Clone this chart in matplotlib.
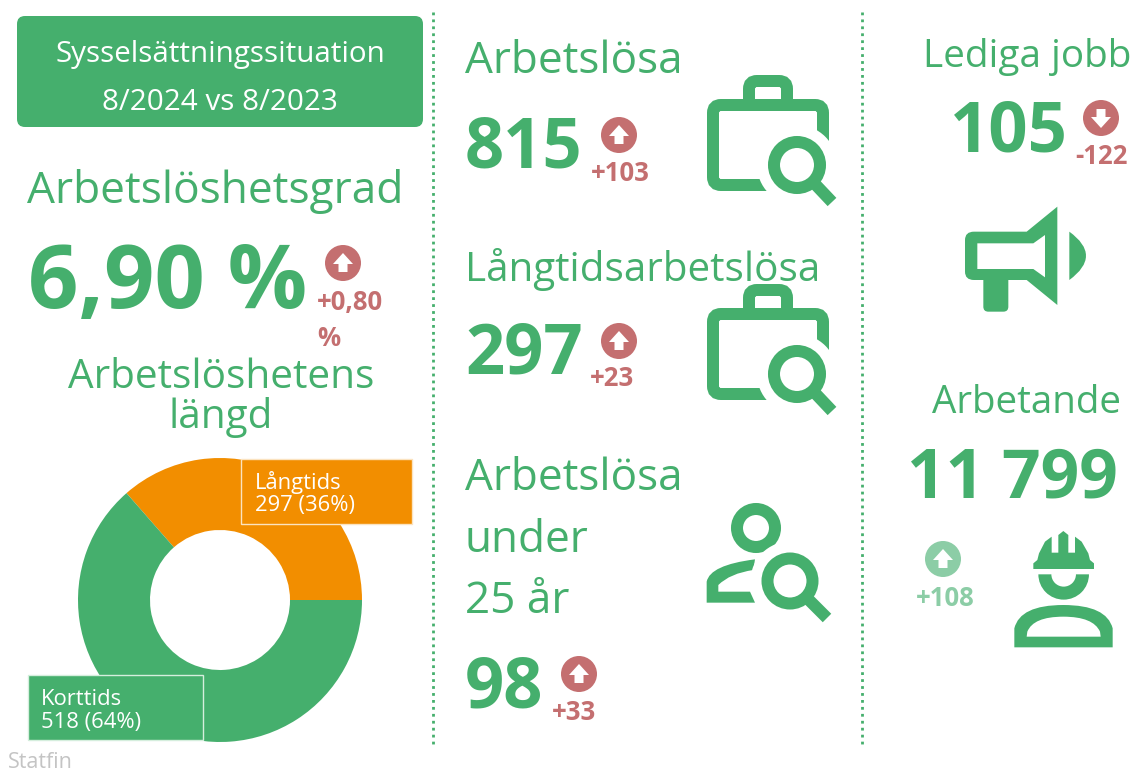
import matplotlib
matplotlib.use("Agg")
import matplotlib.pyplot as plt
from matplotlib.patches import Circle, FancyBboxPatch, PathPatch, Polygon, Rectangle, Wedge
from matplotlib.path import Path

plt.rcParams["font.family"] = ["Open Sans", "DejaVu Sans"]

GREEN = "#45AF6D"
ORANGE = "#F28E00"
RED = "#C46F70"
LIGHT = "#8CCDA6"
WIDTH, HEIGHT = 1134, 773

# data
duration_labels = ["Långtids", "Korttids"]
duration_values = [297, 518]
duration_shares = ["36%", "64%"]
duration_colors = [ORANGE, GREEN]
unemployment_rate = "6,90 %"
rate_change = "+0,80"
unemployed = "815"
unemployed_change = "+103"
long_term = "297"
long_term_change = "+23"
youth = "98"
youth_change = "+33"
vacancies = "105"
vacancies_change = "-122"
employed = "11 799"
employed_change = "+108"

fig = plt.figure(figsize=(WIDTH / 100, HEIGHT / 100), dpi=100, facecolor="white")

# donut goes underneath the pixel layer
ax_pie = fig.add_axes([78 / WIDTH, 1 - 742 / HEIGHT, 284 / WIDTH, 284 / HEIGHT])
ax_pie.pie(duration_values, colors=duration_colors, startangle=0, counterclock=True,
           radius=1.0, wedgeprops={"width": 72 / 142, "linewidth": 0})
ax_pie.set_xlim(-1, 1)
ax_pie.set_ylim(-1, 1)

# overlay in image pixels
ax = fig.add_axes([0, 0, 1, 1], facecolor="none")
ax.set_xlim(0, WIDTH)
ax.set_ylim(HEIGHT, 0)
ax.axis("off")


def label(x, y, s, size, color=GREEN, weight="normal", ha="left"):
    ax.text(x, y, s, fontsize=size, color=color, fontweight=weight, ha=ha, va="baseline", zorder=6)


def stroke(points, lw, zorder=2):
    xs = [p[0] for p in points]
    ys = [p[1] for p in points]
    ax.plot(xs, ys, color=GREEN, lw=lw * 0.72, solid_capstyle="butt", solid_joinstyle="round", zorder=zorder)


def ring(cx, cy, r, thick, zorder=2):
    ax.add_patch(Circle((cx, cy), r, fill=False, ec=GREEN, lw=thick * 0.72, zorder=zorder))


def magnifier(cx, cy, r, thick, end):
    ax.add_patch(Circle((cx, cy), r + 17, fc="white", ec="none", zorder=3))
    ring(cx, cy, r, thick, zorder=4)
    ux, uy = (end[0] - cx), (end[1] - cy)
    n = (ux ** 2 + uy ** 2) ** 0.5
    stroke([(cx + ux / n * (r + 2), cy + uy / n * (r + 2)), end], thick, zorder=4)


def briefcase(dy):
    ax.add_patch(FancyBboxPatch((749, 81 + dy), 38, 30, boxstyle="round,pad=0,rounding_size=8", fill=False,
                                ec=GREEN, lw=12 * 0.72, zorder=2))
    ax.add_patch(FancyBboxPatch((713, 105 + dy), 110, 80, boxstyle="round,pad=0,rounding_size=8", fc="white",
                                ec=GREEN, lw=12 * 0.72, zorder=2))
    magnifier(797, 165 + dy, 23, 12, (832, 202 + dy))


def badge(cx, cy, color, up=True):
    r = 18
    ax.add_patch(Circle((cx, cy), r, fc=color, ec="none"))
    s = 1 if up else -1
    ax.add_patch(Polygon([(cx, cy - 10 * s), (cx + 10, cy + 1 * s), (cx + 4.5, cy + 1 * s), (cx + 4.5, cy + 9 * s),
                          (cx - 4.5, cy + 9 * s), (cx - 4.5, cy + 1 * s), (cx - 10, cy + 1 * s)],
                         fc="white", ec="none", lw=0))


def megaphone():
    z = lambda x, y: (900 + x / 3, 190 + y / 3)
    outer = Path([z(195, 150), z(195, 125), z(222, 125), z(380, 125), z(472, 50), z(472, 345), z(380, 270),
                  z(325, 270), z(325, 350), z(325, 365), z(310, 365), z(265, 365), z(250, 365), z(250, 350),
                  z(250, 270), z(222, 270), z(195, 270), z(195, 245), z(195, 150)],
                 [Path.MOVETO, Path.CURVE3, Path.CURVE3, Path.LINETO, Path.LINETO, Path.LINETO, Path.LINETO,
                  Path.LINETO, Path.LINETO, Path.CURVE3, Path.CURVE3, Path.LINETO, Path.CURVE3, Path.CURVE3,
                  Path.LINETO, Path.LINETO, Path.CURVE3, Path.CURVE3, Path.CLOSEPOLY])
    inner = [(232, 160), (400, 160), (435, 135), (435, 262), (400, 237), (232, 237)]
    ax.add_patch(PathPatch(outer, fc=GREEN, ec="none"))
    ax.add_patch(Polygon([z(*p) for p in inner], fc="white", ec="none"))
    arc = Path([z(508, 125), z(608, 197), z(508, 270), z(508, 125)],
               [Path.MOVETO, Path.CURVE3, Path.CURVE3, Path.CLOSEPOLY])
    ax.add_patch(PathPatch(arc, fc=GREEN, ec="none"))


def worker():
    z = lambda x, y: (900 + x / 3, 520 + y / 3)
    helmet = [(400, 147), (582, 147), (582, 130), (570, 120), (565, 100), (545, 65), (525, 50), (525, 98), (505, 98),
              (505, 45), (490, 33), (475, 45), (475, 98), (455, 98), (455, 50), (435, 65), (417, 100), (412, 120),
              (400, 130)]
    ax.add_patch(Polygon([z(*p) for p in helmet], fc=GREEN, ec="none"))
    ax.add_patch(Wedge(z(491, 163), 25.3, 0, 180, width=13, fc=GREEN, ec="none"))
    body = Path([z(343, 382), z(343, 325), z(360, 255), z(490, 255), z(620, 255), z(638, 325), z(638, 382),
                 z(343, 382)],
                [Path.MOVETO, Path.LINETO, Path.CURVE3, Path.CURVE3, Path.CURVE3, Path.CURVE3, Path.LINETO,
                 Path.CLOSEPOLY])
    ax.add_patch(PathPatch(body, fc=GREEN, ec="none"))
    hole = Path([z(380, 350), z(382, 335), z(400, 290), z(490, 290), z(580, 290), z(600, 335), z(602, 350),
                 z(380, 350)],
                [Path.MOVETO, Path.LINETO, Path.CURVE3, Path.CURVE3, Path.CURVE3, Path.CURVE3, Path.LINETO,
                 Path.CLOSEPOLY])
    ax.add_patch(PathPatch(hole, fc="white", ec="none"))


def person():
    z = lambda x, y: (690 + x / 3, 490 + y / 3)
    ring(756, 528, 19, 12)
    body = Path([z(195, 208), z(190, 240), z(120, 250), z(85, 285), z(85, 305), z(180, 305), z(195, 338), z(50, 338),
                 z(50, 275), z(60, 225), z(195, 208)],
                [Path.MOVETO, Path.LINETO, Path.CURVE3, Path.CURVE3, Path.LINETO, Path.LINETO, Path.LINETO,
                 Path.LINETO, Path.LINETO, Path.CURVE3, Path.CURVE3])
    ax.add_patch(PathPatch(body, fc=GREEN, ec="none"))
    magnifier(790, 581, 22.5, 12, (827, 618))


# dotted column separators
for x in (433, 862):
    ax.plot([x, x], [12, 746], color=GREEN, lw=2, linestyle=(0, (1, 1.5)))

# header box
ax.add_patch(FancyBboxPatch((23, 22), 394, 99, boxstyle="round,pad=6,rounding_size=8", fc=GREEN, ec="none"))
label(220, 62, "Sysselsättningssituation", 21.3, "white", ha="center")
label(220, 110, "8/2024 vs 8/2023", 21.3, "white", ha="center")

# left column
label(27, 203, "Arbetslöshetsgrad", 31.9)
label(28, 308, unemployment_rate, 63.5, weight="bold")
badge(343, 263, RED)
label(317, 310, rate_change, 18.5, RED, "bold")
label(317, 346, "%", 18.5, RED, "bold")
label(221, 388, "Arbetslöshetens", 29.2, ha="center")
label(221, 428, "längd", 29.2, ha="center")

# donut labels
ax.add_patch(Rectangle((241, 459), 171, 65, fc=ORANGE, ec="#FBE3C0", lw=1))
label(255, 489, duration_labels[0], 15.8, "white")
label(255, 511, f"{duration_values[0]} ({duration_shares[0]})", 15.8, "white")
ax.add_patch(Rectangle((28, 675), 175, 65, fc=GREEN, ec="#D5EEDD", lw=1))
label(41, 705, duration_labels[1], 15.8, "white")
label(41, 728, f"{duration_values[1]} ({duration_shares[1]})", 15.8, "white")
label(8, 768, "Statfin", 15.5, "#C4C4C4")

# middle column
label(465, 73, "Arbetslösa", 31.8)
label(465, 168, unemployed, 49.5, weight="bold")
badge(619, 135, RED)
label(620, 181, unemployed_change, 18.5, RED, "bold", ha="center")
briefcase(0)

label(465, 281, "Långtidsarbetslösa", 29.1)
label(465, 374, long_term, 49.5, weight="bold")
badge(619, 341, RED)
label(612, 386, long_term_change, 18.5, RED, "bold", ha="center")
briefcase(209)

label(465, 490, "Arbetslösa", 31.8)
label(465, 552, "under", 31.8)
label(465, 613, "25 år", 31.8)
label(465, 708, youth, 49.5, weight="bold")
badge(579, 674, RED)
label(574, 720, youth_change, 18.5, RED, "bold", ha="center")
person()

# right column
label(923, 67, "Lediga jobb", 27.9)
label(950, 152, vacancies, 49.5, weight="bold")
badge(1101, 118, RED, up=False)
label(1102, 164, vacancies_change, 18.5, RED, "bold", ha="center")
megaphone()
label(932, 413, "Arbetande", 27.7)
label(907, 498, employed, 48.8, weight="bold")
badge(943, 559, LIGHT)
label(945, 606, employed_change, 18.5, LIGHT, "bold", ha="center")
worker()

fig.savefig("out.png", dpi=100)
